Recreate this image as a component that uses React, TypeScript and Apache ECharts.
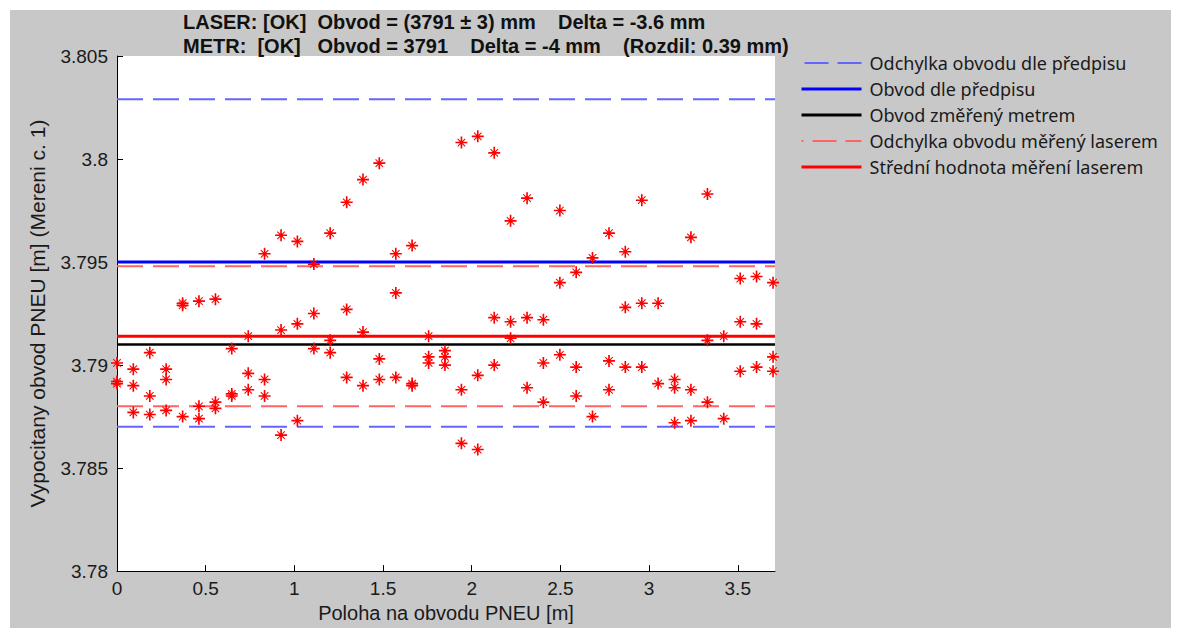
import React, { useEffect, useRef } from "react";
import * as echarts from "echarts";

// ---------- texts ----------
const titleLines = [
  "LASER: [OK]  Obvod = (3791 ± 3) mm    Delta = -3.6 mm",
  "METR:  [OK]   Obvod = 3791    Delta = -4 mm    (Rozdil: 0.39 mm)",
];
const xAxisTitle = "Poloha na obvodu PNEU [m]";
const yAxisTitle = "Vypocitany obvod PNEU [m] (Mereni c. 1)";

const lineNames = [
  "Odchylka obvodu dle předpisu",
  "Obvod dle předpisu",
  "Obvod změřený metrem",
  "Odchylka obvodu měřený laserem",
  "Střední hodnota měření laserem",
];

// ---------- axes ----------
const xMin = 0;
const xMax = 3.71;
const xTicks = [0, 0.5, 1, 1.5, 2, 2.5, 3, 3.5];
const yMin = 3.78;
const yMax = 3.805;
const yInterval = 0.005;

// ---------- reference lines ----------
const specTolerance = [3.787, 3.8029]; // Odchylka obvodu dle předpisu
const specNominal = 3.795; // Obvod dle předpisu
const tapeMeasured = 3.791; // Obvod změřený metrem
const laserTolerance = [3.788, 3.7948]; // Odchylka obvodu měřený laserem
const laserMean = 3.7914; // Střední hodnota měření laserem

// ---------- measurement positions [m] ----------
const positions = [
  0, 0.092, 0.185, 0.277, 0.37, 0.462, 0.555, 0.647, 0.74, 0.832,
  0.925, 1.017, 1.11, 1.202, 1.295, 1.387, 1.479, 1.572, 1.664, 1.757,
  1.849, 1.942, 2.034, 2.127, 2.219, 2.312, 2.404, 2.497, 2.589, 2.681,
  2.774, 2.866, 2.959, 3.051, 3.144, 3.236, 3.329, 3.421, 3.514, 3.606,
  3.699,
];

// ---------- measured circumference values [m] (3 readings per position) ----------
const readingsA = [
  3.7901, 3.7898, 3.7906, 3.7898, 3.793, 3.7931, 3.7932, 3.7908, 3.7914, 3.7954,
  3.7963, 3.796, 3.7949, 3.7964, 3.7979, 3.799, 3.7998, 3.7954, 3.7958, 3.7914,
  3.7907, 3.8008, 3.8011, 3.8003, 3.797, 3.7981, 3.7922, 3.7975, 3.7945, 3.7952,
  3.7964, 3.7955, 3.798, 3.793, 3.7893, 3.7962, 3.7983, 3.7914, 3.7942, 3.7943,
  3.794,
];
const readingsB: (number | null)[] = [
  3.7892, 3.789, 3.7885, 3.7893, 3.7929, 3.788, 3.7882, 3.7886, 3.7896, 3.7893,
  3.7917, 3.792, 3.7925, 3.7912, 3.7927, 3.7916, 3.7903, 3.7935, 3.7891, 3.7904,
  3.7904, 3.7888, 3.7895, 3.7923, 3.7921, 3.7923, 3.7901, 3.794, 3.7899, null,
  3.7902, 3.7928, 3.793, null, 3.7889, 3.7888, 3.7912, null, 3.7921, 3.792,
  3.7904,
];
const readingsC = [
  3.7891, 3.7877, 3.7876, 3.7878, 3.7875, 3.7874, 3.7879, 3.7885, 3.7888, 3.7885,
  3.7866, 3.7873, 3.7908, 3.7906, 3.7894, 3.789, 3.7893, 3.7894, 3.789, 3.7901,
  3.79, 3.7862, 3.7859, 3.79, 3.7913, 3.7889, 3.7882, 3.7905, 3.7885, 3.7875,
  3.7888, 3.7899, 3.7899, 3.7891, 3.7872, 3.7873, 3.7882, 3.7874, 3.7897, 3.7899,
  3.7897,
];

const starPath =
  "path://M-1.1,-8L1.1,-8L1.1,8L-1.1,8Z" +
  "M-8,-1.1L8,-1.1L8,1.1L-8,1.1Z" +
  "M-4.5,-5.5L5.5,4.5L4.5,5.5L-5.5,-4.5Z" +
  "M5.5,-4.5L-4.5,5.5L-5.5,4.5L4.5,-5.5Z" +
  "M-2.4,-2.4L2.4,-2.4L2.4,2.4L-2.4,2.4Z";

const FONT = "'Liberation Sans', Arial, sans-serif";
const LEGEND_FONT = "'Noto Sans', 'Open Sans', sans-serif";

const legendStyles = [
  { color: "#6464ff", width: 2, type: [24, 9], dashOffset: -3 },
  { color: "#0000ff", width: 3, type: "solid" },
  { color: "#000000", width: 3, type: "solid" },
  { color: "#ff6464", width: 2, type: [24, 9], dashOffset: 22 },
  { color: "#ff0000", width: 3, type: "solid" },
];

function hLine(name: string, value: number, color: string, width: number, dashed: boolean) {
  return {
    type: "line",
    name,
    data: [
      [xMin, value],
      [xMax, value],
    ],
    symbol: "none",
    silent: true,
    z: 2,
    lineStyle: { color, width, type: dashed ? [26, 10] : "solid" },
    itemStyle: { color },
  };
}

function scatter(values: (number | null)[]) {
  const data: number[][] = [];
  values.forEach((v, i) => {
    if (v !== null && v !== undefined) data.push([positions[i], v]);
  });
  return {
    type: "scatter",
    data,
    symbol: starPath,
    symbolSize: 12,
    z: 5,
    silent: true,
    itemStyle: { color: "#ff0000", opacity: 1 },
  };
}

export default function App() {
  const ref = useRef<HTMLDivElement>(null);

  useEffect(() => {
    if (!ref.current) return;
    const chart = echarts.init(ref.current, undefined, { renderer: "svg" });
    chart.setOption({
      animation: false,
      backgroundColor: "#c8c8c8",
      title: {
        text: titleLines.join("\n"),
        left: 173,
        top: 0,
        padding: 0,
        textStyle: {
          fontFamily: FONT,
          fontSize: 20,
          fontWeight: "bold",
          color: "#111",
          lineHeight: 24,
        },
      },
      legend: {
        orient: "vertical",
        left: 790,
        top: 44,
        padding: 0,
        itemWidth: 60,
        itemHeight: 14,
        itemGap: 8,
        itemStyle: { opacity: 0, borderWidth: 0 },
        data: lineNames.map((name, i) => ({
          name,
          lineStyle: legendStyles[i],
          itemStyle: { opacity: 0, borderWidth: 0 },
        })),
        textStyle: {
          fontFamily: LEGEND_FONT,
          fontSize: 18,
          color: "#1a1a1a",
          padding: [0, 0, 0, 3],
        },
        selectedMode: false,
      },
      grid: {
        left: 107,
        top: 46,
        width: 658,
        height: 522,
        show: true,
        backgroundColor: "#ffffff",
        borderWidth: 0,
      },
      xAxis: {
        type: "value",
        min: xMin,
        max: xMax,
        name: xAxisTitle,
        nameLocation: "middle",
        nameGap: 29,
        nameTextStyle: { fontFamily: FONT, fontSize: 20, color: "#1a1a1a" },
        axisLine: { show: true, onZero: false, lineStyle: { color: "#000", width: 1 } },
        axisTick: {
          show: true,
          inside: true,
          length: 6,
          customValues: xTicks,
          lineStyle: { color: "#000" },
        },
        axisLabel: {
          customValues: xTicks,
          margin: 8,
          fontFamily: FONT,
          fontSize: 19,
          color: "#1a1a1a",
        },
        splitLine: { show: false },
      },
      yAxis: {
        type: "value",
        min: yMin,
        max: yMax,
        interval: yInterval,
        name: yAxisTitle,
        nameLocation: "middle",
        nameGap: 69,
        nameTextStyle: { fontFamily: FONT, fontSize: 21, color: "#1a1a1a" },
        axisLine: { show: true, onZero: false, lineStyle: { color: "#000", width: 1 } },
        axisTick: { show: true, inside: true, length: 6, lineStyle: { color: "#000" } },
        axisLabel: { margin: 9, fontFamily: FONT, fontSize: 19, color: "#1a1a1a" },
        splitLine: { show: false },
      },
      series: [
        hLine(lineNames[0], specTolerance[1], "#6464ff", 2, true),
        hLine(lineNames[0], specTolerance[0], "#6464ff", 2, true),
        hLine(lineNames[1], specNominal, "#0000ff", 3, false),
        hLine(lineNames[2], tapeMeasured, "#000000", 2.5, false),
        hLine(lineNames[3], laserTolerance[1], "#ff6464", 2, true),
        hLine(lineNames[3], laserTolerance[0], "#ff6464", 2, true),
        hLine(lineNames[4], laserMean, "#ff0000", 3, false),
        scatter(readingsA),
        scatter(readingsB),
        scatter(readingsC),
      ],
    });
    return () => chart.dispose();
  }, []);

  return (
    <div
      style={{
        position: "fixed",
        left: 0,
        top: 0,
        width: 1179,
        height: 635,
        background: "#ffffff",
      }}
    >
      <div
        ref={ref}
        style={{ position: "absolute", left: 10, top: 10, width: 1161, height: 618 }}
      />
    </div>
  );
}
